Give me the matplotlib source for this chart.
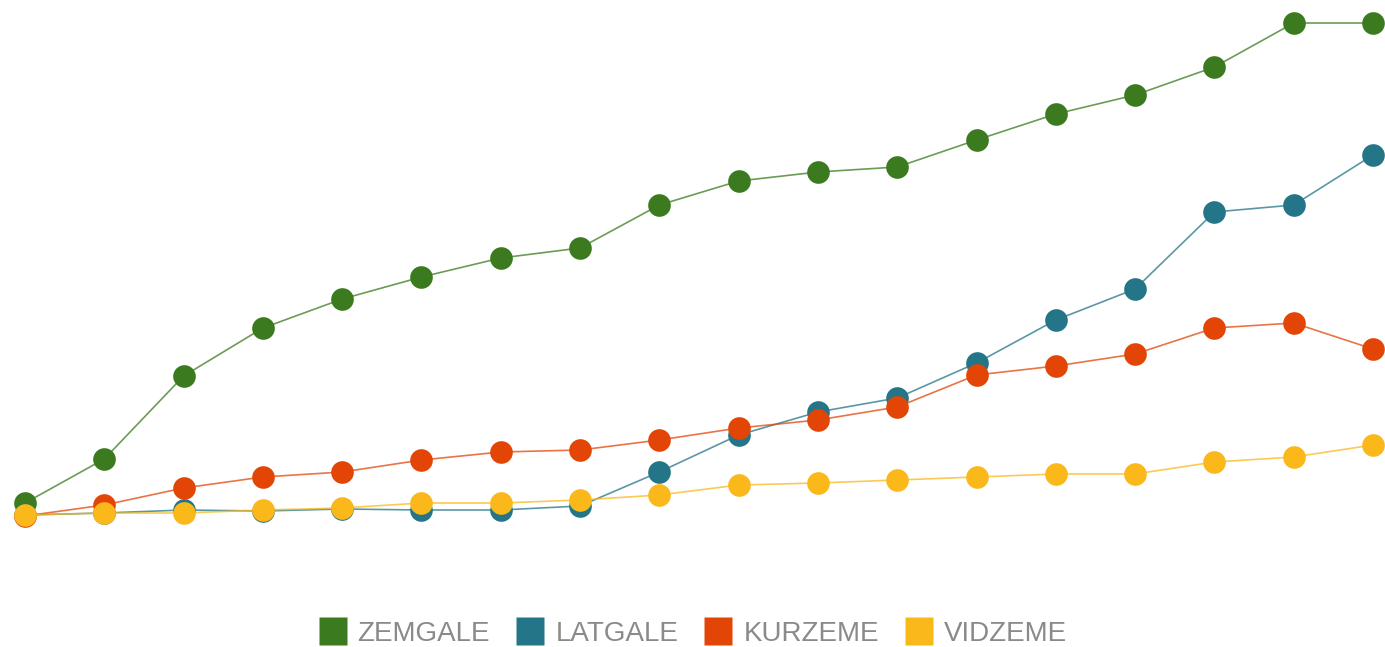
import matplotlib
matplotlib.use("Agg")
import matplotlib.pyplot as plt
from matplotlib.lines import Line2D

periods = list(range(18))
series_names = ["ZEMGALE", "LATGALE", "KURZEME", "VIDZEME"]
zemgale = [14, 58, 141, 189, 218, 240, 259, 269, 312, 336, 345, 350, 377, 403, 422, 450, 494, 494]
latgale = [2, 4, 7, 6, 8, 7, 7, 11, 45, 82, 105, 119, 154, 197, 228, 305, 312, 362]
kurzeme = [1, 12, 29, 40, 45, 57, 65, 67, 77, 89, 97, 110, 142, 151, 163, 189, 194, 168]
vidzeme = [2, 4, 4, 7, 9, 14, 14, 17, 22, 32, 34, 37, 40, 43, 43, 55, 60, 72]
colors = ["#3b7a1e", "#237587", "#e24506", "#fbb81a"]

W, H = 1385, 647
fig = plt.figure(figsize=(W / 100, H / 100), dpi=100)
ax = fig.add_axes([25 / W, 0, (1373 - 25) / W, 1])
ax.set_xlim(0, 17)
ax.set_ylim(517 - 647, 517)
ax.axis("off")

for vals, c in zip([zemgale, latgale, kurzeme, vidzeme], colors):
    ax.plot(periods, vals, color=c, lw=1.2, alpha=0.75, solid_capstyle="round", clip_on=False)
    ax.plot(periods, vals, ls="none", marker="o", ms=16.3, color=c, mec="none", clip_on=False)

handles = [Line2D([], [], ls="none", marker="s", ms=20, color=c, mec="none") for c in colors]
fig.legend(handles, series_names, loc="center", bbox_to_anchor=(693 / W, 1 - 634 / H),
           ncol=4, frameon=False, prop={"family": "Liberation Sans", "size": 20},
           labelcolor="#8a8a8a", handlelength=1.0, handletextpad=0.4, columnspacing=0.95,
           borderpad=0, borderaxespad=0)

fig.savefig("out.png", dpi=100, facecolor="white")
